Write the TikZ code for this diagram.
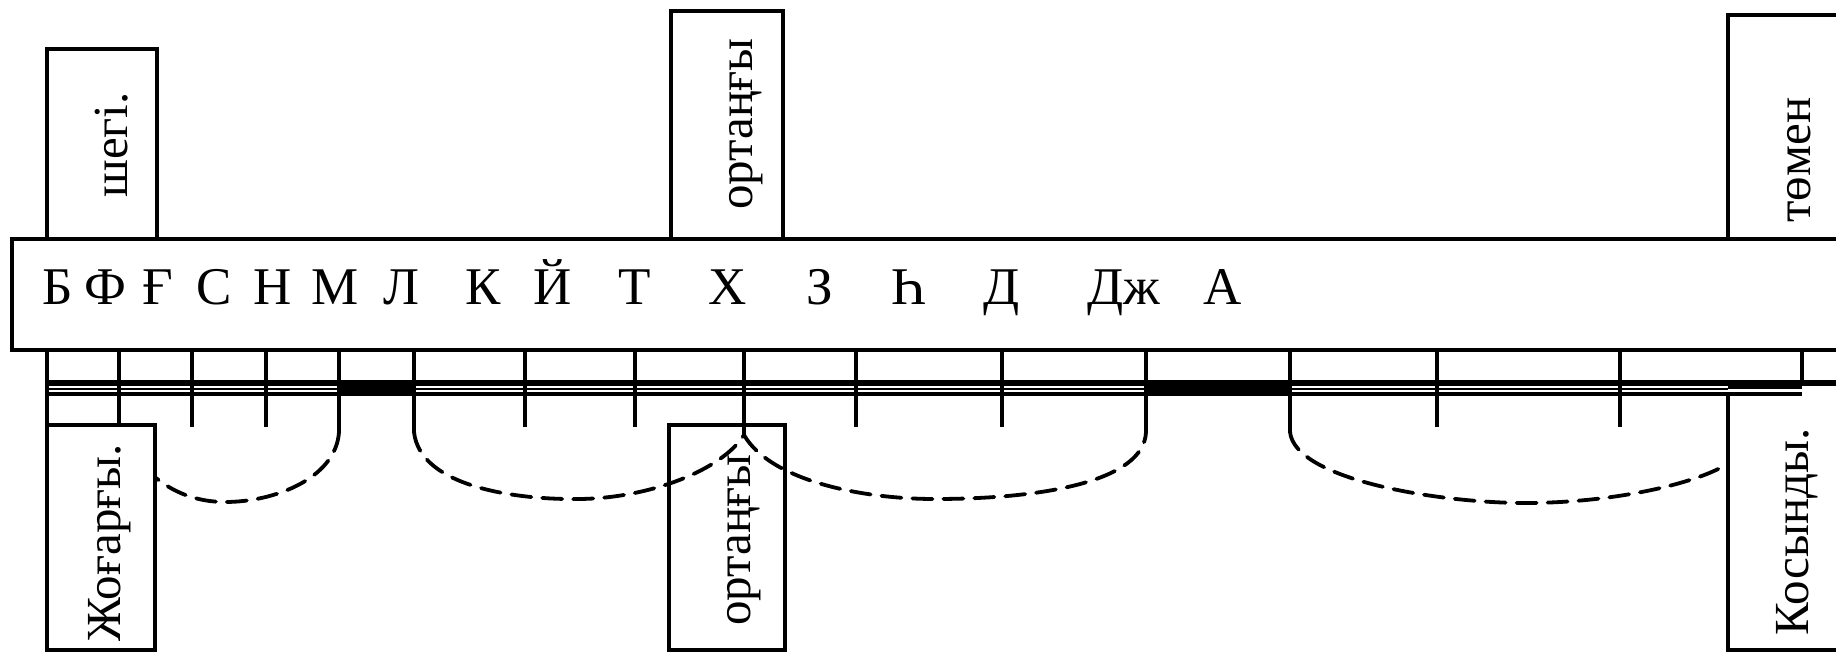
\documentclass[tikz,border=0pt]{standalone}
\usepackage{fontspec}
\setmainfont{Liberation Serif}
\begin{document}
\begin{tikzpicture}[x=0.5pt,y=-0.5pt,line width=1.8pt,
  frame/.style={line width=1.8pt},
  tick/.style={line width=1.8pt},
  arcline/.style={line width=1.9pt,dash pattern=on 10pt off 5.5pt,line cap=round},
  letter/.style={anchor=base,inner sep=0pt,font=\fontsize{26.5}{30}\selectfont},
  vlabel/.style={anchor=base,inner sep=0pt,rotate=90,font=\fontsize{24.5}{28}\selectfont}]
\useasboundingbox (0,0) rectangle (1836,653);
\clip (0,0) rectangle (1836,653);
% main bar
\draw[frame] (1850,239) -- (12,239) -- (12,350) -- (1850,350);
% top boxes
\draw[frame] (47,239) -- (47,49) -- (157,49) -- (157,239);
\draw[frame] (671,239) -- (671,11) -- (783,11) -- (783,239);
\draw[frame] (1728,239) -- (1728,15) -- (1850,15);
% bottom boxes
\draw[frame] (47,350) -- (47,650) -- (155,650) -- (155,425) -- (47,425);
\draw[frame] (669,425) rectangle (785,650);
\draw[frame] (1728,393) -- (1728,650) -- (1850,650);
% band
\draw[line width=2.6pt] (47,383) -- (1850,383);
\draw[line width=0.9pt] (47,389) -- (1728,389);
\draw[line width=2.4pt] (47,394) -- (1802,394);
\fill (339,380) rectangle (414,396);
\fill (1146,380) rectangle (1290,396);
\fill (1728,380) rectangle (1802,389);
% ticks
\foreach \x in {192,266,525,635,856,1002,1437,1620}
  \draw[tick] (\x,350) -- (\x,427);
\draw[tick] (119,350) -- (119,425);
\draw[tick] (744,350) -- (744,435);
\draw[tick] (1802,350) -- (1802,383);
\foreach \x in {339,414,1146,1290}
  \draw[tick] (\x,350) -- (\x,432);
% dashed arcs
\draw[arcline] (339,432) .. controls (336,478) and (275,502) .. (225,502) .. controls (195,502) and (172,491) .. (156,478);
\draw[arcline] (414,432) .. controls (420,488) and (520,500) .. (580,499) .. controls (650,498) and (722,470) .. (744,435);
\draw[arcline] (744,435) .. controls (770,480) and (860,499) .. (935,499) .. controls (1040,499) and (1144,482) .. (1146,432);
\draw[arcline] (1290,432) .. controls (1295,480) and (1440,503) .. (1525,503) .. controls (1610,503) and (1690,485) .. (1724,466);
% letters
\node[letter] (b)  at (58,304) {Б};
\node[letter] (f)  at (105,304) {Ф};
\node[letter] (gh) at (158,304) {Ғ};
\node[letter] (s)  at (214,304) {С};
\node[letter] (n)  at (273,304) {Н};
\node[letter] (m)  at (335,304) {М};
\node[letter] (l)  at (401,304) {Л};
\node[letter] (k)  at (483,304) {К};
\node[letter] (j)  at (553,304) {Й};
\node[letter] (t)  at (635,304) {Т};
\node[letter] (x)  at (728,304) {Х};
\node[letter] (z)  at (820,304) {З};
\node[letter] (hh) at (909,304) {Һ};
\node[letter] (d)  at (1002,304) {Д};
\node[letter] (dzh) at (1124,304) {Дж};
\node[letter] (a)  at (1223,304) {А};
% vertical labels
\node[vlabel] (sheg) at (127,145) {шегі.};
\node[vlabel] (ortT) at (752,124) {ортаңғы};
\node[vlabel] (tomen) at (1810,160) {төмен};
\node[vlabel] (zhog) at (120,543) {Жоғарғы.};
\node[vlabel] (ortB) at (750,540) {ортаңғы};
\node[vlabel] (kos) at (1808,532) {Косынды.};
\end{tikzpicture}
\end{document}
